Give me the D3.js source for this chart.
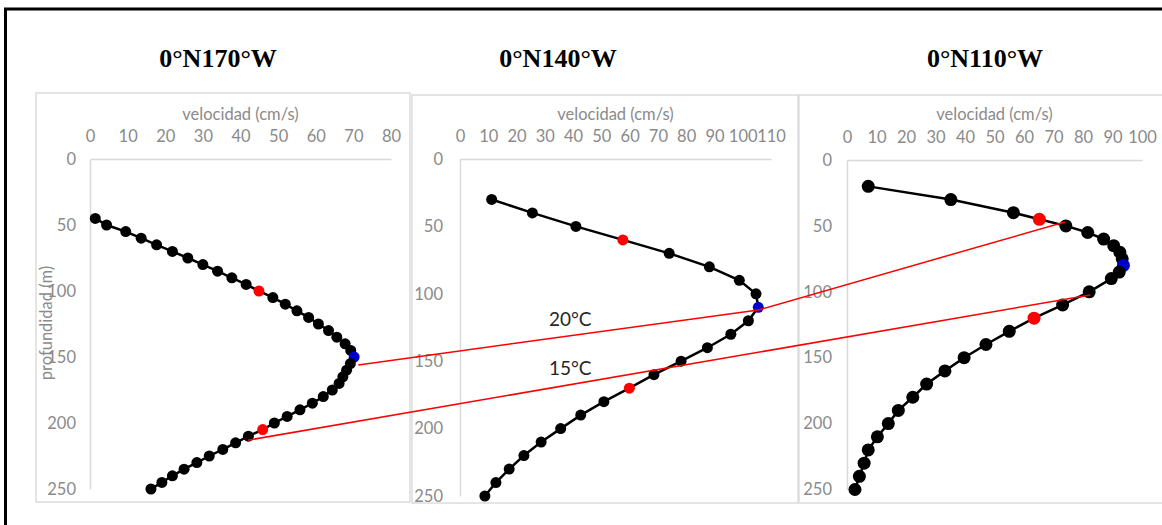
<!DOCTYPE html>
<html>
<head>
<meta charset="utf-8">
<script src="https://cdn.jsdelivr.net/npm/d3@7"></script>
<style>
  body { margin: 0; background: #fff; }
  svg { display: block; }
  .tick text { fill: #8a8a8a; font-family: Lato, "Open Sans", sans-serif; font-size: 16.5px; }
  .domain { stroke: #d9d9d9; stroke-width: 1.5; }
  .panel-box { fill: none; stroke: #dcdcdc; stroke-width: 1.5; }
  .axis-title { fill: #8a8a8a; font-family: Lato, "Open Sans", sans-serif; font-size: 16.5px; }
  .panel-title { font-family: "Liberation Serif", "Times New Roman", serif; font-weight: bold; font-size: 26px; }
  .iso-label { fill: #262626; font-family: Lato, "Open Sans", sans-serif; font-size: 19px; }
</style>
</head>
<body>
<div id="chart"></div>
<script>
// station names
var titles = ["0°N170°W", "0°N140°W", "0°N110°W"];

// 0N 170W: depth (m) and speed (cm/s)
var depth170 = [45, 50, 55, 60, 65, 70, 75, 80, 85, 90, 95, 100, 105, 110, 115, 120, 125, 130, 135, 140,
  145, 150, 155, 160, 165, 170, 175, 180, 185, 190, 195, 200, 205, 210, 215, 220, 225, 230, 235, 240, 245, 250];
var vel170 = [1.4, 4.4, 9.5, 13.6, 17.7, 21.9, 26.0, 30.0, 33.9, 37.7, 41.5, 44.9, 48.6, 51.9, 55.0, 58.1, 60.7, 63.4, 65.6, 67.8,
  69.3, 70.2, 69.2, 68.2, 67.2, 66.2, 64.4, 62.0, 59.1, 55.8, 52.4, 49.0, 45.9, 42.1, 38.7, 35.3, 31.7, 28.4, 25.0, 21.9, 19.1, 16.2];

// 0N 140W
var depth140 = [30, 40, 50, 60, 70, 80, 90, 100, 110, 120, 130, 140, 150, 160, 170, 180, 190, 200, 210, 220, 230, 240, 250];
var vel140 = [11.2, 25.6, 41.0, 57.6, 74.0, 88.2, 98.8, 104.7, 105.5, 102.0, 95.8, 87.5, 78.2, 68.6, 59.9, 50.9, 42.7, 35.6, 28.7, 22.6, 17.4, 12.7, 8.8];

// 0N 110W
var depth110 = [20, 30, 40, 45, 50, 55, 60, 65, 70, 75, 80, 85, 90, 100, 110, 120, 130, 140, 150, 160, 170, 180, 190, 200, 210, 220, 230, 240, 250];
var vel110 = [7.2, 35.2, 56.4, 65.2, 74.2, 81.6, 87.0, 90.4, 92.5, 93.3, 93.7, 92.3, 89.6, 82.1, 73.1, 63.4, 55.0, 47.1, 39.7, 33.2, 27.0, 22.3, 17.4, 14.0, 10.3, 7.2, 5.8, 4.2, 2.7];

// highlighted depths (red / blue markers)
var red170 = [100, 205], blue170 = [150];
var red140 = [60, 170], blue140 = [110];
var red110 = [45, 120], blue110 = [80];

// axis ticks
var xTicks170 = [0, 10, 20, 30, 40, 50, 60, 70, 80];
var xTicks140 = [0, 10, 20, 30, 40, 50, 60, 70, 80, 90, 100, 110];
var xTicks110 = [0, 10, 20, 30, 40, 50, 60, 70, 80, 90, 100];
var yTicks = [0, 50, 100, 150, 200, 250];

// isotherm lines, as [panel, speed, depth]
var iso20 = [[0, 71.3, 156], [1, 105.5, 112], [2, 73.9, 47]];
var iso15 = [[0, 42.0, 213], [2, 82.4, 102.5]];
var isoLabels = ["20°C", "15°C"];

var width = 1162, height = 525;

var svg = d3.select("#chart").append("svg")
  .attr("width", width)
  .attr("height", height);

// layout of the three panels
var panels = [
  { depth: depth170, vel: vel170, red: red170, blue: blue170, ticks: xTicks170,
    box: [36, 93, 410, 502], xr: [90, 391], yr: [159, 489], titleX: 218, pad: 14, r: 5.5 },
  { depth: depth140, vel: vel140, red: red140, blue: blue140, ticks: xTicks140,
    box: [412, 95, 798, 503], xr: [460, 771], yr: [159, 496], titleX: 558, pad: 17, r: 5.5 },
  { depth: depth110, vel: vel110, red: red110, blue: blue110, ticks: xTicks110,
    box: [799, 95, 1175, 503], xr: [847, 1142], yr: [160, 489.5], titleX: 985, pad: 15, r: 6.5 }
];

// outer frame (cut off at right/bottom)
svg.append("rect")
  .attr("x", 5.5).attr("y", 9)
  .attr("width", width + 20).attr("height", height + 20)
  .attr("fill", "none")
  .attr("stroke", "#000")
  .attr("stroke-width", 3);

panels.forEach(function(p, i) {
  p.x = d3.scaleLinear().domain([0, d3.max(p.ticks)]).range(p.xr);
  p.y = d3.scaleLinear().domain([0, d3.max(yTicks)]).range(p.yr);

  svg.append("rect")
    .attr("class", "panel-box")
    .attr("x", p.box[0]).attr("y", p.box[1])
    .attr("width", p.box[2] - p.box[0]).attr("height", p.box[3] - p.box[1]);

  svg.append("text")
    .attr("class", "panel-title")
    .attr("x", p.titleX).attr("y", 67)
    .attr("text-anchor", "middle")
    .text(titles[i]);

  svg.append("text")
    .attr("class", "axis-title")
    .attr("x", (p.xr[0] + p.xr[1]) / 2).attr("y", 120)
    .attr("text-anchor", "middle")
    .text("velocidad (cm/s)");

  var xAxis = d3.axisTop(p.x)
    .tickValues(p.ticks)
    .tickSize(0)
    .tickPadding(17)
    .tickFormat(d3.format("d"));

  var yAxis = d3.axisLeft(p.y)
    .tickValues(yTicks)
    .tickSize(0)
    .tickPadding(p.pad)
    .tickFormat(d3.format("d"));

  svg.append("g")
    .attr("class", "x axis")
    .attr("transform", "translate(0," + p.y(0) + ")")
    .call(xAxis);

  svg.append("g")
    .attr("class", "y axis")
    .attr("transform", "translate(" + p.x(0) + ",0)")
    .call(yAxis);

  var rows = p.depth.map(function(d, k) { return { d: d, v: p.vel[k] }; });

  var line = d3.line()
    .x(function(d) { return p.x(d.v); })
    .y(function(d) { return p.y(d.d); });

  svg.append("path")
    .datum(rows)
    .attr("fill", "none")
    .attr("stroke", "#000")
    .attr("stroke-width", 2.5)
    .attr("d", line);

  svg.append("g")
    .selectAll("circle")
    .data(rows)
    .enter()
    .append("circle")
    .attr("cx", function(d) { return p.x(d.v); })
    .attr("cy", function(d) { return p.y(d.d); })
    .attr("r", p.r)
    .attr("fill", function(d) {
      if (p.red.indexOf(d.d) >= 0) return "#ff0000";
      if (p.blue.indexOf(d.d) >= 0) return "#0000cc";
      return "#000";
    });
});

// y axis title, only on the first panel
svg.append("text")
  .attr("class", "axis-title")
  .attr("transform", "translate(52,323) rotate(-90)")
  .attr("text-anchor", "middle")
  .text("profundidad (m)");

// isotherms across panels
var isoLine = d3.line()
  .x(function(d) { return panels[d[0]].x(d[1]); })
  .y(function(d) { return panels[d[0]].y(d[2]); });

svg.append("g")
  .selectAll("path")
  .data([iso20, iso15])
  .enter()
  .append("path")
  .attr("fill", "none")
  .attr("stroke", "#ff0000")
  .attr("stroke-width", 1.5)
  .attr("d", isoLine);

// labels sit in the middle panel
var mid = panels[1];
svg.append("g")
  .selectAll("text")
  .data(isoLabels)
  .enter()
  .append("text")
  .attr("class", "iso-label")
  .attr("x", mid.x(39))
  .attr("y", function(d, k) { return mid.y(k === 0 ? 118 : 155); })
  .attr("text-anchor", "middle")
  .attr("dominant-baseline", "central")
  .text(function(d) { return d; });
</script>
</body>
</html>
